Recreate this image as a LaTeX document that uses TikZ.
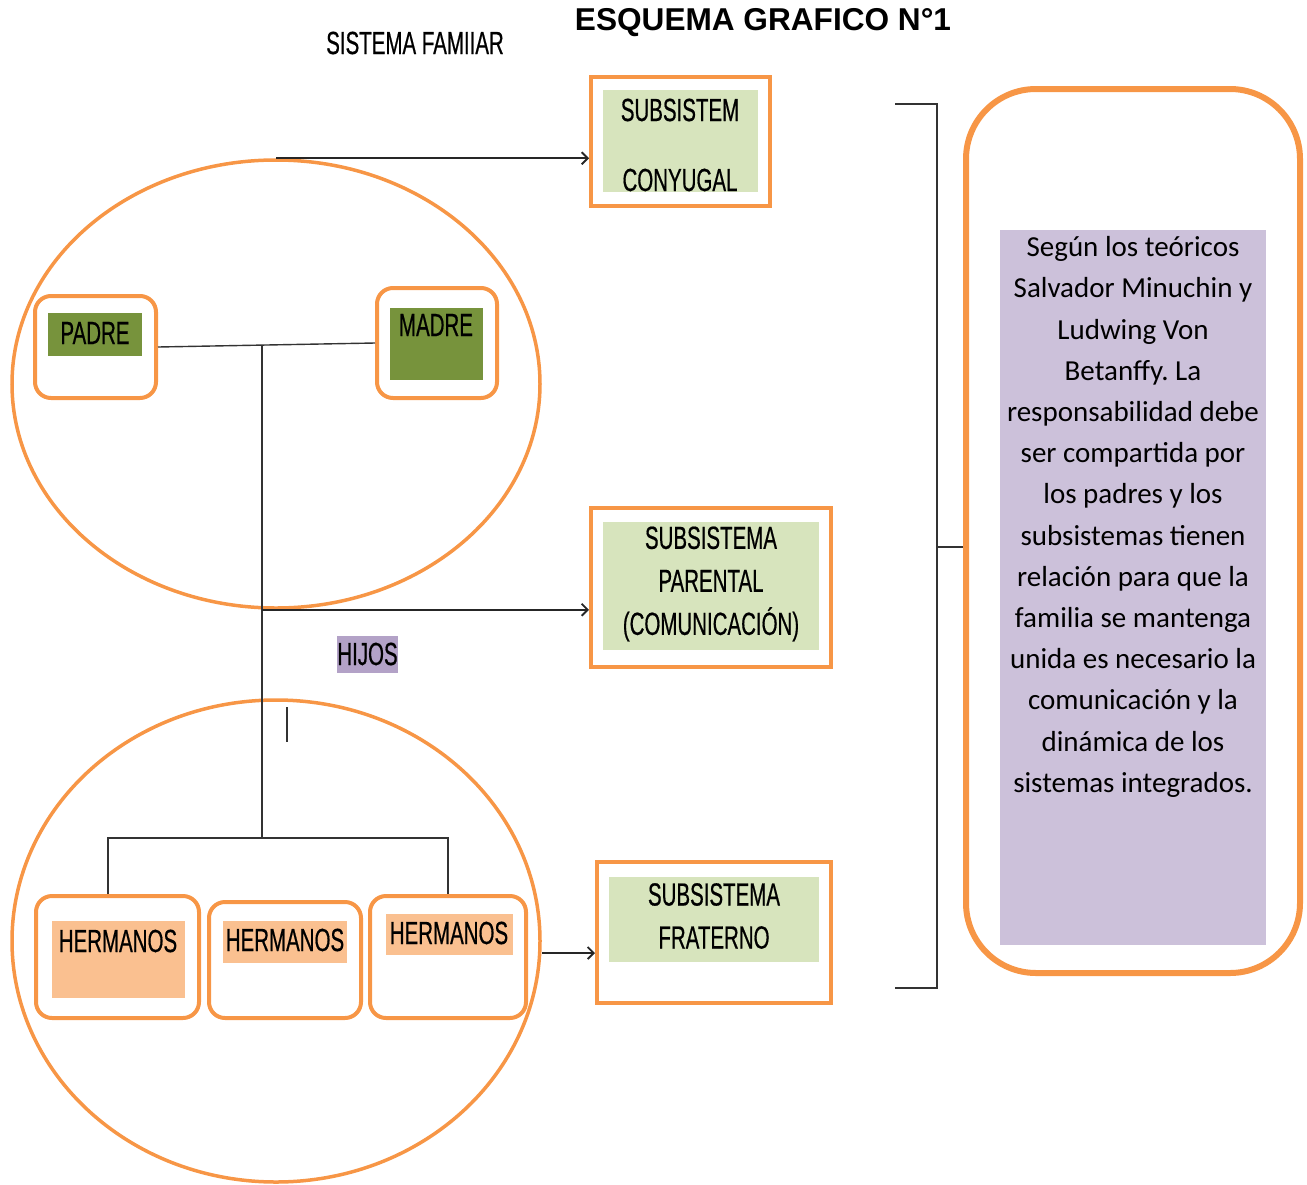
\documentclass[tikz,border=0pt]{standalone}
\usepackage{fontspec}
\setmainfont{Liberation Sans}
\newfontfamily\narrowfont[FakeStretch=0.64,FakeBold=0.5]{Liberation Sans}
\newfontfamily\notefont{Carlito}
\usetikzlibrary{shapes.geometric,arrows.meta}

\definecolor{famorange}{HTML}{F79646}
\definecolor{subgreen}{HTML}{D7E4BD}
\definecolor{olivegreen}{HTML}{77933C}
\definecolor{peach}{HTML}{FAC090}
\definecolor{lilac}{HTML}{CCC1DA}
\definecolor{hijoslilac}{HTML}{B3A2C7}

\begin{document}
\frenchspacing
\begin{tikzpicture}[x=1pt,y=-1pt,
  lbl/.style={font=\narrowfont\fontsize{32}{43}\selectfont, inner sep=0pt, align=center},
  famcircle/.style={ellipse, draw=famorange, line width=3.5pt, inner sep=0pt},
  membox/.style={draw=famorange, line width=4pt, rounded corners=16pt, inner sep=0pt},
  subbox/.style={draw=famorange, line width=4pt, inner sep=0pt},
  swatch/.style={inner sep=0pt},
  link/.style={draw=black!80, line width=1.4pt},
  arr/.style={-{Straight Barb[length=6pt,width=12pt]}, draw=black!85, line width=1.8pt}]
  \useasboundingbox (0,0) rectangle (1307,1184);

  % titles
  \node[font=\bfseries\fontsize{31.6}{35}\selectfont] (titulo) at (763,23) {ESQUEMA GRAFICO N°1};
  \node[lbl] (sistema) at (415,43) {SISTEMA FAMIIAR};

  % the two circles
  \node[famcircle, minimum width=528pt, minimum height=448pt] (padres) at (276,384) {};
  \node[famcircle, minimum width=528pt, minimum height=482pt] (hijos) at (276,941) {};

  % padre / madre
  \node[membox, minimum width=121pt, minimum height=102pt] (padre) at (95.5,347) {};
  \node[swatch, fill=olivegreen, minimum width=94pt, minimum height=43pt] (padreF) at (95,334.5) {};
  \node[lbl] (padreT) at (95,333) {PADRE};
  \node[membox, minimum width=120pt, minimum height=110pt] (madre) at (437,343) {};
  \node[swatch, fill=olivegreen, minimum width=93pt, minimum height=72pt] (madreF) at (436.5,344) {};
  \node[lbl] (madreT) at (436,325) {MADRE};

  \node[swatch, fill=hijoslilac, minimum width=61pt, minimum height=37pt] (hijosF) at (367.5,654.5) {};
  \node[lbl] (hijosT) at (367.5,654) {HIJOS};

  % hermanos
  \node[membox, minimum width=163pt, minimum height=122pt] (h1) at (117.5,957) {};
  \node[swatch, fill=peach, minimum width=133pt, minimum height=77pt] (h1F) at (118.5,959.5) {};
  \node[lbl] (h1T) at (118,941) {HERMANOS};
  \node[membox, minimum width=152pt, minimum height=116pt] (h2) at (285,960) {};
  \node[swatch, fill=peach, minimum width=124pt, minimum height=42pt] (h2F) at (285,942) {};
  \node[lbl] (h2T) at (285,940) {HERMANOS};
  \node[membox, minimum width=156pt, minimum height=122pt] (h3) at (448,957) {};
  \node[swatch, fill=peach, minimum width=127pt, minimum height=41pt] (h3F) at (449.5,934.5) {};
  \node[lbl] (h3T) at (449,933) {HERMANOS};

  % subsistemas
  \node[subbox, minimum width=179pt, minimum height=129pt] (conyugal) at (680.5,141.5) {};
  \node[swatch, fill=subgreen, minimum width=155pt, minimum height=102pt] (conyugalF) at (680.5,141) {};
  \node[lbl] (conyugalT1) at (680,110) {SUBSISTEM};
  \node[lbl] (conyugalT2) at (680,180) {CONYUGAL};

  \node[subbox, minimum width=240pt, minimum height=159pt] (parental) at (711,587.5) {};
  \node[swatch, fill=subgreen, minimum width=216pt, minimum height=128pt] (parentalF) at (711,586) {};
  \node[lbl] (parentalT) at (711,584) {SUBSISTEMA\\PARENTAL\\(COMUNICACIÓN)};

  \node[subbox, minimum width=234pt, minimum height=141pt] (fraterno) at (714,932.5) {};
  \node[swatch, fill=subgreen, minimum width=210pt, minimum height=85pt] (fraternoF) at (714,919.5) {};
  \node[lbl] (fraternoT) at (714,916) {SUBSISTEMA\\FRATERNO};

  % nota
  \node[draw=famorange, line width=6pt, rounded corners=70pt, minimum width=334pt,
        minimum height=884pt, inner sep=0pt] (nota) at (1133,531) {};
  \node[swatch, fill=lilac, minimum width=266pt, minimum height=715pt] (notaF) at (1133,587.5) {};
  \node[font=\notefont\fontsize{29}{41.2}\selectfont, align=center, inner sep=0pt] (notaT) at (1133,517)
    {Según los teóricos\\Salvador Minuchin y\\Ludwing Von\\Betanffy. La\\responsabilidad debe\\
     ser compartida por\\los padres y los\\subsistemas tienen\\relación para que la\\
     familia se mantenga\\unida es necesario la\\comunicación y la\\dinámica de los\\sistemas integrados.};

  % lines
  \draw[link] (padre.east) -- coordinate[pos=0.48] (union) (madre.west);
  \coordinate (reparto) at (union |- 0,838);
  \draw[link] (union) -- (reparto);
  \draw[link] ([xshift=-9.5pt]h1.north) |- (reparto) -| (h3.north);
  \draw[link] (287,707) -- (287,742);

  \draw[arr] (padres.north) -- (padres.north -| conyugal.west);
  \draw[arr] (union |- padres.south) -- (padres.south -| parental.west);
  \draw[arr] ([yshift=-12pt]hijos.east) -- ([yshift=-12pt]hijos.east -| fraterno.west);

  % llave
  \coordinate (llave) at (937,547);
  \draw[link] (895,104) -| (937,988) -- (895,988);
  \draw[link] (llave) -- (llave -| nota.west);
\end{tikzpicture}
\end{document}
